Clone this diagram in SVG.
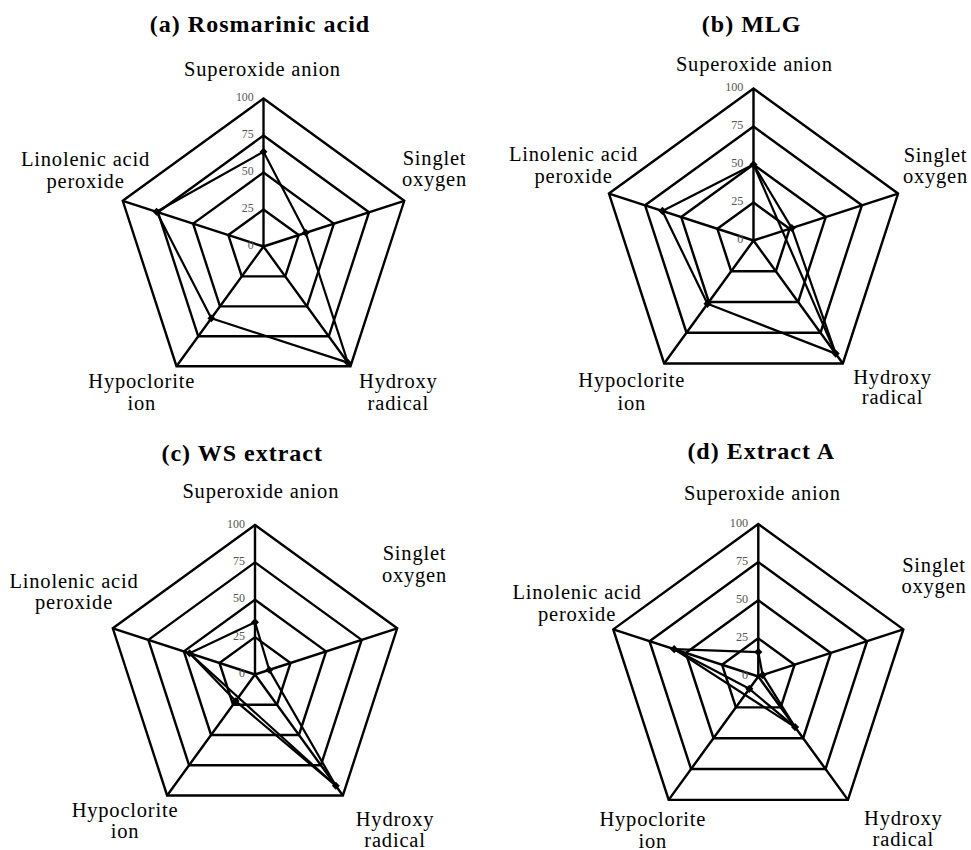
<svg xmlns="http://www.w3.org/2000/svg" xmlns:xlink="http://www.w3.org/1999/xlink" width="971" height="850" viewBox="0 0 971 850">
<style>
.grid{fill:none;stroke:#000;stroke-width:2.4;stroke-linejoin:miter}
.data{fill:none;stroke:#000;stroke-width:2.2;stroke-linejoin:round}
.extra{fill:none;stroke:#000;stroke-width:2.2}
.dot{fill:#000}
.tick{font-family:"Liberation Serif","Times New Roman",serif;font-size:12px;fill:#555;text-anchor:end}
.lbl{font-family:"Liberation Serif","Times New Roman",serif;font-size:20.5px;letter-spacing:0.8px;fill:#000;text-anchor:middle}
.title{font-family:"Liberation Serif","Times New Roman",serif;font-size:24px;font-weight:bold;letter-spacing:1px;fill:#000;text-anchor:middle}
</style>
<defs>
<g id="grid">
<polygon class="grid" points="0,-150 142.66,-46.35 88.17,121.35 -88.17,121.35 -142.66,-46.35"/>
<polygon class="grid" points="0,-112.5 106.99,-34.76 66.13,91.01 -66.13,91.01 -106.99,-34.76"/>
<polygon class="grid" points="0,-75 71.33,-23.18 44.08,60.68 -44.08,60.68 -71.33,-23.18"/>
<polygon class="grid" points="0,-37.5 35.66,-11.59 22.04,30.34 -22.04,30.34 -35.66,-11.59"/>
<path class="grid" d="M0,0V-150M0,0L142.66,-46.35M0,0L88.17,121.35M0,0L-88.17,121.35M0,0L-142.66,-46.35"/>
<text class="tick" x="-10" y="-147.5">100</text>
<text class="tick" x="-10" y="-110">75</text>
<text class="tick" x="-10" y="-72.5">50</text>
<text class="tick" x="-10" y="-35">25</text>
<text class="tick" x="-10" y="2.5">0</text>
</g>
<path id="dot" class="dot" d="M0,-4L4,0L0,4L-4,0Z"/>
</defs>

<g id="chart-a">
<use xlink:href="#grid" transform="translate(263.5,246.5) scale(0.9867)"/>
<g id="connectors-a" transform="translate(263.5,246.5) scale(0.9867)">
<polygon class="data" points="0,-96 42.80,-13.91 85.52,117.71 -52.90,72.81 -108.42,-35.23"/>
<use xlink:href="#dot" x="0" y="-96"/><use xlink:href="#dot" x="42.80" y="-13.91"/><use xlink:href="#dot" x="85.52" y="117.71"/><use xlink:href="#dot" x="-52.90" y="72.81"/><use xlink:href="#dot" x="-108.42" y="-35.23"/>
</g>
<text class="title" x="260" y="32">(a) Rosmarinic acid</text>
<text class="lbl" x="262.5" y="76">Superoxide anion</text>
<text class="lbl" x="85.5" y="165.7">Linolenic acid</text>
<text class="lbl" x="85.5" y="188.3">peroxide</text>
<text class="lbl" x="434.5" y="164.5">Singlet</text>
<text class="lbl" x="434.5" y="186">oxygen</text>
<text class="lbl" x="141.7" y="387.5">Hypoclorite</text>
<text class="lbl" x="141.7" y="410">ion</text>
<text class="lbl" x="398.3" y="387.5">Hydroxy</text>
<text class="lbl" x="398.3" y="410">radical</text>
</g>

<g id="chart-b">
<use xlink:href="#grid" transform="translate(753.5,240.5) scale(1.0133)"/>
<g id="connectors-b" transform="translate(753.5,240.5) scale(1.0133)">
<polygon class="data" points="0,-75 37.80,-12.28 81.12,111.64 -45.41,62.50 -89.88,-29.20"/>
<line class="extra" x1="0" y1="-75" x2="81.12" y2="111.64"/>
<use xlink:href="#dot" x="0" y="-75"/><use xlink:href="#dot" x="37.80" y="-12.28"/><use xlink:href="#dot" x="81.12" y="111.64"/><use xlink:href="#dot" x="-45.41" y="62.50"/><use xlink:href="#dot" x="-89.88" y="-29.20"/>
</g>
<text class="title" x="751.7" y="32">(b) MLG</text>
<text class="lbl" x="754.3" y="70.7">Superoxide anion</text>
<text class="lbl" x="573.5" y="161">Linolenic acid</text>
<text class="lbl" x="573.5" y="183">peroxide</text>
<text class="lbl" x="935.5" y="161.7">Singlet</text>
<text class="lbl" x="935.5" y="183.3">oxygen</text>
<text class="lbl" x="631.7" y="387.3">Hypoclorite</text>
<text class="lbl" x="631.7" y="409.5">ion</text>
<text class="lbl" x="892.5" y="384">Hydroxy</text>
<text class="lbl" x="892.5" y="404.3">radical</text>
</g>

<g id="chart-c">
<use xlink:href="#grid" transform="translate(255,674.5) scale(0.9967)"/>
<g id="connectors-c" transform="translate(255,674.5) scale(0.9967)">
<polygon class="data" points="0,-52.5 14.27,-4.64 81.12,111.64 -19.40,26.70 -65.62,-21.32"/>
<line class="extra" x1="-65.62" y1="-21.32" x2="81.12" y2="111.64"/>
<use xlink:href="#dot" x="0" y="-52.5"/><use xlink:href="#dot" x="14.27" y="-4.64"/><use xlink:href="#dot" x="81.12" y="111.64"/><use xlink:href="#dot" x="-19.40" y="26.70"/><use xlink:href="#dot" x="-65.62" y="-21.32"/>
</g>
<text class="title" x="242.2" y="460.7">(c) WS extract</text>
<text class="lbl" x="260.8" y="497.7">Superoxide anion</text>
<text class="lbl" x="74" y="587.7">Linolenic acid</text>
<text class="lbl" x="74" y="609.3">peroxide</text>
<text class="lbl" x="414.5" y="560">Singlet</text>
<text class="lbl" x="414.5" y="581.7">oxygen</text>
<text class="lbl" x="125" y="816.7">Hypoclorite</text>
<text class="lbl" x="125" y="838.3">ion</text>
<text class="lbl" x="395" y="826.2">Hydroxy</text>
<text class="lbl" x="395" y="846.5">radical</text>
</g>

<g id="chart-d">
<use xlink:href="#grid" transform="translate(758.3,676.5) scale(1.0167)"/>
<g id="connectors-d" transform="translate(758.3,676.5) scale(1.0167)">
<polygon class="data" points="0,-24 4.28,-1.39 36.15,49.75 -8.82,12.14 -82.74,-26.88"/>
<line class="extra" x1="-82.74" y1="-26.88" x2="36.15" y2="49.75"/>
<use xlink:href="#dot" x="0" y="-24"/><use xlink:href="#dot" x="4.28" y="-1.39"/><use xlink:href="#dot" x="36.15" y="49.75"/><use xlink:href="#dot" x="-8.82" y="12.14"/><use xlink:href="#dot" x="-82.74" y="-26.88"/>
</g>
<text class="title" x="761.2" y="459">(d) Extract A</text>
<text class="lbl" x="762.3" y="500">Superoxide anion</text>
<text class="lbl" x="577" y="599.3">Linolenic acid</text>
<text class="lbl" x="577" y="621">peroxide</text>
<text class="lbl" x="934" y="571.7">Singlet</text>
<text class="lbl" x="934" y="593.3">oxygen</text>
<text class="lbl" x="652.8" y="826">Hypoclorite</text>
<text class="lbl" x="652.8" y="847.5">ion</text>
<text class="lbl" x="903.3" y="825.2">Hydroxy</text>
<text class="lbl" x="903.3" y="846">radical</text>
</g>
</svg>
